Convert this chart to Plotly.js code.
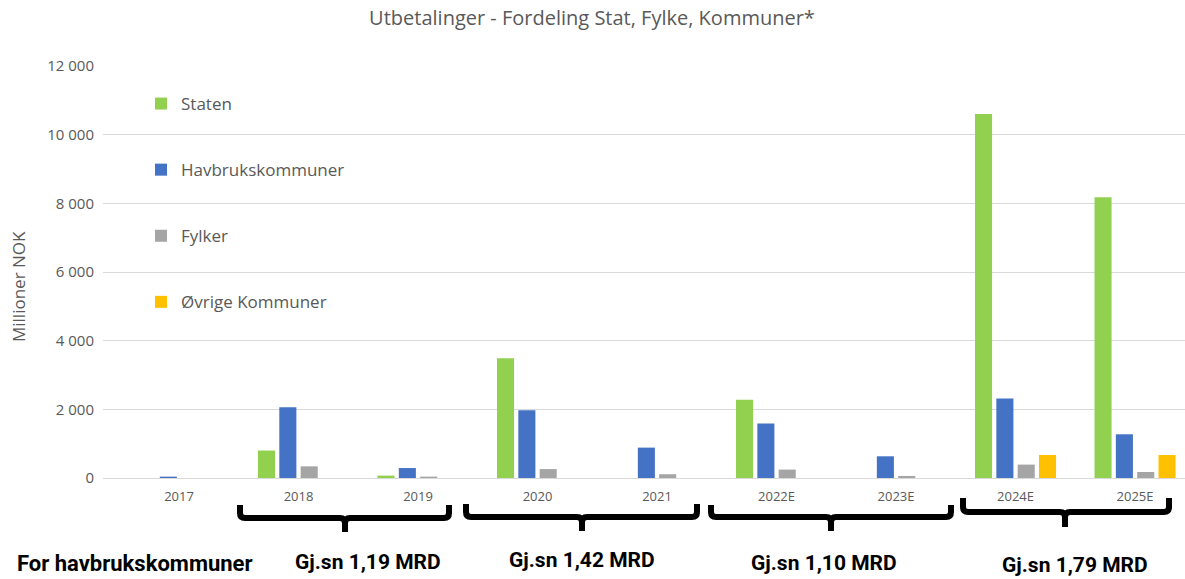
<!DOCTYPE html>
<html>
<head>
<meta charset="utf-8">
<script src="https://cdn.plot.ly/plotly-3.0.1.min.js"></script>
<style>html,body{margin:0;padding:0;background:#fff;}#chart{width:1185px;height:579px;}</style>
</head>
<body>
<div id="chart"></div>
<script>
// ---- data ----
const years = ["2017","2018","2019","2020","2021","2022E","2023E","2024E","2025E"];
const staten = [0, 800, 70, 3490, 0, 2280, 0, 10600, 8180];
const havbrukskommuner = [40, 2060, 290, 1970, 885, 1585, 632, 2313, 1273];
const fylker = [0, 340, 40, 260, 110, 245, 60, 390, 175];
const ovrigeKommuner = [0, 0, 0, 0, 0, 0, 0, 670, 670];
const seriesNames = ["Staten","Havbrukskommuner","Fylker","Øvrige Kommuner"];
const seriesColors = ["#92d050","#4472c4","#a5a5a5","#ffc000"];
const periodLabels = ["Gj.sn 1,19 MRD","Gj.sn 1,42 MRD","Gj.sn 1,10 MRD","Gj.sn 1,79 MRD"];
const rowLabel = "For havbrukskommuner";

// ---- layout helpers (pixel -> paper) ----
const L = 103, R = 1185, T = 66, B = 478;
const px = x => (x - L) / (R - L);
const py = y => (B - y) / (B - T);

const values = [staten, havbrukskommuner, fylker, ovrigeKommuner];
const traces = values.map((v, i) => ({
  type: "bar", x: years, y: v, name: seriesNames[i],
  legendgroup: "g" + i,
  marker: {color: seriesColors[i], line: {width: 0}},
  hoverinfo: "x+y+name"
}));

// brackets
const brackets = [
  {x0:240, x1:449, xc:345, yt:505, yh:518, yb:532},
  {x0:466, x1:697, xc:582, yt:504, yh:517, yb:531},
  {x0:711, x1:951, xc:831, yt:505, yh:517, yb:531},
  {x0:963, x1:1169, xc:1065, yt:498, yh:512, yb:527}
];
const shapes = brackets.map(b => {
  const r = 5;
  const p = [
    `M${px(b.x0)},${py(b.yt)}`,
    `L${px(b.x0)},${py(b.yh - r)}`,
    `Q${px(b.x0)},${py(b.yh)} ${px(b.x0 + r)},${py(b.yh)}`,
    `L${px(b.xc - r)},${py(b.yh)}`,
    `Q${px(b.xc)},${py(b.yh)} ${px(b.xc)},${py(b.yh + r)}`,
    `L${px(b.xc)},${py(b.yb)}`,
    `M${px(b.xc)},${py(b.yh + r)}`,
    `Q${px(b.xc)},${py(b.yh)} ${px(b.xc + r)},${py(b.yh)}`,
    `L${px(b.x1 - r)},${py(b.yh)}`,
    `Q${px(b.x1)},${py(b.yh)} ${px(b.x1)},${py(b.yh - r)}`,
    `L${px(b.x1)},${py(b.yt)}`
  ].join(" ");
  return {type:"path", xref:"paper", yref:"paper", path:p,
          line:{color:"#000", width:6}};
});

const boldFont = {family:"Liberation Sans Narrow, Roboto, Liberation Sans, sans-serif", size:21, color:"#000", weight:"bold"};
const periodX = [368, 582, 824, 1075];
const periodY = [562, 560, 563, 565];
const annotations = periodLabels.map((t, i) => ({
  text: "<b>" + t + "</b>", xref:"paper", yref:"paper",
  x: px(periodX[i]), y: py(periodY[i]), xanchor:"center", yanchor:"middle",
  showarrow:false, font: boldFont
}));
annotations.push({
  text: "<b>" + rowLabel + "</b>", xref:"paper", yref:"paper",
  x: px(15), y: py(563), xanchor:"left", yanchor:"middle",
  showarrow:false, font: Object.assign({}, boldFont, {size: 22})
});
// y-axis title (placed as annotation to match reference offset)
annotations.push({
  text: "Millioner NOK", xref:"paper", yref:"paper",
  x: px(18), y: py(287), xanchor:"center", yanchor:"middle", textangle:-90,
  showarrow:false, font:{size:17, color:"#595959"}
});

const layout = {
  width: 1185, height: 579,
  margin: {l: L, r: 1185 - R, t: T, b: 579 - B, pad: 0},
  paper_bgcolor: "#fff", plot_bgcolor: "#fff",
  font: {family: "Open Sans, sans-serif", color: "#595959", size: 15},
  separators: ", ",
  title: {text: "Utbetalinger - Fordeling Stat, Fylke, Kommuner*", x: 592/1185, xref: "container",
          y: 1 - 18/579, yref: "container", yanchor: "middle", xanchor: "center",
          font: {size: 20, color: "#595959"}},
  barmode: "group", bargap: 0.286, bargroupgap: 0.2,
  xaxis: {type: "category", range: [-0.636, 8.418], showgrid: false, zeroline: false,
          showline: false, ticks: "", ticklabelstandoff: 9,
          tickfont: {size: 13, color: "#595959"}, fixedrange: true},
  yaxis: {range: [0, 12000], dtick: 2000, tickformat: ",d", showgrid: true,
          gridcolor: "#d9d9d9", gridwidth: 1, zeroline: true, zerolinecolor: "#d9d9d9",
          zerolinewidth: 1, showline: false, ticks: "", ticklabelstandoff: 8,
          tickfont: {size: 15, color: "#595959"},
          fixedrange: true},
  showlegend: true,
  legend: {x: px(141), y: py(86), xanchor: "left", yanchor: "top",
           bgcolor: "rgba(255,255,255,0)", borderwidth: 0, tracegroupgap: 41,
           font: {size: 17, color: "#595959"}, traceorder: "grouped"},
  shapes: shapes,
  annotations: annotations
};

Plotly.newPlot("chart", traces, layout, {displayModeBar: false, staticPlot: true});
</script>
</body>
</html>
